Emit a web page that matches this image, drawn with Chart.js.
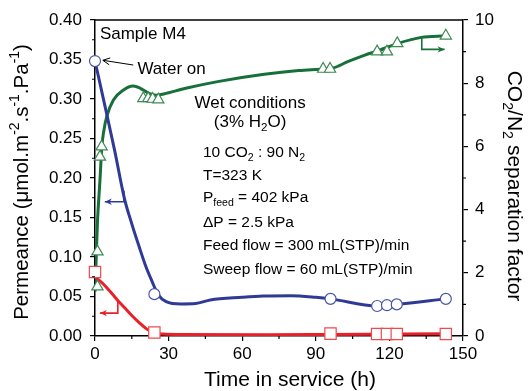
<!DOCTYPE html>
<html><head><meta charset="utf-8">
<script src="https://cdn.jsdelivr.net/npm/chart.js@4"></script>
<style>html,body{margin:0;padding:0;background:#fff}canvas{display:block}</style>
</head><body>
<canvas id="c" width="529" height="391"></canvas>
<script>
const FONT = "'Liberation Sans', Arial, Helvetica, sans-serif";

// ---- measured points (markers) ----
const markerHours = [0, 24.2, 96, 115, 119, 123, 143];
const permeanceCO2 = [0.348, 0.053, 0.047, 0.038, 0.039, 0.040, 0.047];
const permeanceN2 = [0.081, 0.0045, 0.003, 0.0025, 0.0025, 0.0025, 0.0025];
const sepHours = [1, 1, 2, 2.7, 19.7, 21.7, 23.5, 25.8, 93, 95.8, 115, 119, 123.2, 143];
const sepFactor = [1.56, 2.67, 5.67, 5.99, 7.52, 7.52, 7.50, 7.48, 8.45, 8.45, 9.0, 9.0, 9.26, 9.5];

// ---- trend curves ----
const co2CurveHours = [0, 4, 8, 12, 15, 18, 20.5, 23, 25.8, 29, 35, 41, 47, 60, 68.6, 80, 90, 96, 115, 119, 123, 143];
const co2CurveValues = [0.348, 0.292, 0.235, 0.174, 0.142, 0.113, 0.090, 0.071, 0.052, 0.0435, 0.0405, 0.041, 0.0456, 0.049, 0.0506, 0.051, 0.049, 0.047, 0.038, 0.039, 0.040, 0.047];
const n2CurveHours = [0, 3, 6, 9, 12, 15, 18, 21, 24, 28, 35, 70, 96, 143];
const n2CurveValues = [0.075, 0.067, 0.057, 0.046, 0.036, 0.026, 0.017, 0.009, 0.004, 0.0025, 0.002, 0.0015, 0.002, 0.003];
const sepCurveHours = [0, 0.5, 1, 2, 2.8, 3.5, 4.8, 7.5, 11.5, 15.5, 18.5, 22, 25, 28, 37, 50, 69, 83, 93, 97, 103, 110, 115.5, 123.5, 133, 143];
const sepCurveValues = [1.4, 2.5, 3.6, 4.9, 6.0, 6.45, 6.95, 7.47, 7.78, 7.91, 7.84, 7.68, 7.62, 7.66, 7.84, 8.05, 8.28, 8.40, 8.45, 8.48, 8.68, 8.89, 9.03, 9.26, 9.45, 9.5];

// ---- tick values ----
const xTickValues = [0, 30, 60, 90, 120, 150];
const xMinorValues = [15, 45, 75, 105, 135];
const yTickValues = [0, 0.05, 0.10, 0.15, 0.20, 0.25, 0.30, 0.35, 0.40];
const yMinorValues = [0.025, 0.075, 0.125, 0.175, 0.225, 0.275, 0.325, 0.375];
const y2TickValues = [0, 2, 4, 6, 8, 10];
const y2MinorValues = [1, 3, 5, 7, 9];

const BLUE = '#2f3a96', BLUE_M = '#4a55a8';
const RED = '#e8202a', RED_M = '#ee4a4e';
const GREEN = '#17703a', GREEN_M = '#3d8a55';

const pts = (xs, ys) => xs.map((x, i) => ({x, y: ys[i]}));

function richWidth(ctx, segs, size) {
  let w = 0;
  for (const s of segs) {
    const fs = s.sub || s.sup ? size * 0.68 : size;
    ctx.font = fs + 'px ' + FONT;
    w += ctx.measureText(s.t).width;
  }
  return w;
}
function drawRich(ctx, segs, x, y, size, align, rot, color) {
  ctx.save();
  ctx.translate(x, y);
  if (rot) ctx.rotate(rot);
  const w = richWidth(ctx, segs, size);
  let cx = align === 'center' ? -w / 2 : (align === 'right' ? -w : 0);
  ctx.fillStyle = color || '#000';
  ctx.textBaseline = 'middle';
  ctx.textAlign = 'left';
  for (const s of segs) {
    const fs = s.sub || s.sup ? size * 0.68 : size;
    ctx.font = fs + 'px ' + FONT;
    let dy = 0;
    if (s.sub) dy = size * 0.33;
    if (s.sup) dy = -size * 0.35;
    ctx.fillText(s.t, cx, dy);
    cx += ctx.measureText(s.t).width;
  }
  ctx.restore();
}

const arrowDefs = [
  {axis: 'y', color: BLUE, lw: 1.6, head: 'fill', p: [[11.8, 0.184], [11.8, 0.170], [4.0, 0.170]]},
  {axis: 'y', color: RED, lw: 1.6, head: 'fill', p: [[9.3, 0.044], [9.3, 0.029], [2.0, 0.029]]},
  {axis: 'y2', color: GREEN, lw: 1.6, head: 'fill', p: [[133.2, 9.42], [133.2, 9.07], [142.5, 9.07]]},
  {axis: 'y', color: '#000', lw: 1, head: 'open', p: [[15.6, 0.343], [3.2, 0.349]]}
];

const textDefs = [
  {x: 2, y: 0.382, a: 'left', s: 17, segs: [{t: 'Sample M4'}]},
  {x: 17.3, y: 0.338, a: 'left', s: 17, segs: [{t: 'Water on'}]},
  {x: 63.2, y: 0.295, a: 'center', s: 17, segs: [{t: 'Wet conditions'}]},
  {x: 63.2, y: 0.271, a: 'center', s: 17, segs: [{t: '(3% H'}, {t: '2', sub: true}, {t: 'O)'}]},
  {x: 44, y: 0.2316, a: 'left', s: 15.5, segs: [{t: '10 CO'}, {t: '2', sub: true}, {t: ' : 90 N'}, {t: '2', sub: true}]},
  {x: 44, y: 0.2025, a: 'left', s: 15.5, segs: [{t: 'T=323 K'}]},
  {x: 44, y: 0.1747, a: 'left', s: 15.5, segs: [{t: 'P'}, {t: 'feed', sub: true}, {t: ' = 402 kPa'}]},
  {x: 44, y: 0.1430, a: 'left', s: 15.5, segs: [{t: '\u0394P = 2.5 kPa'}]},
  {x: 44, y: 0.1140, a: 'left', s: 15.5, segs: [{t: 'Feed flow = 300 mL(STP)/min'}]},
  {x: 44, y: 0.0835, a: 'left', s: 15.5, segs: [{t: 'Sweep flow = 60 mL(STP)/min'}]}
];

const decor = {
  id: 'decor',
  afterDraw(chart) {
    const ctx = chart.ctx, ca = chart.chartArea;
    const xs = chart.scales.x, ys = chart.scales.y, y2 = chart.scales.y2;
    ctx.save();
    ctx.strokeStyle = '#000'; ctx.lineWidth = 1.5;
    ctx.beginPath(); ctx.moveTo(ca.left, ca.top); ctx.lineTo(ca.right, ca.top); ctx.stroke();
    ctx.lineWidth = 1.2;
    ctx.beginPath();
    for (const v of xMinorValues) { const px = xs.getPixelForValue(v); ctx.moveTo(px, ca.bottom); ctx.lineTo(px, ca.bottom + 3); }
    for (const v of yMinorValues) { const py = ys.getPixelForValue(v); ctx.moveTo(ca.left, py); ctx.lineTo(ca.left - 3, py); }
    for (const v of y2MinorValues) { const py = y2.getPixelForValue(v); ctx.moveTo(ca.right, py); ctx.lineTo(ca.right + 3, py); }
    ctx.stroke();
    for (const a of arrowDefs) {
      const sc = chart.scales[a.axis];
      const P = a.p.map(q => [xs.getPixelForValue(q[0]), sc.getPixelForValue(q[1])]);
      ctx.strokeStyle = a.color; ctx.fillStyle = a.color; ctx.lineWidth = a.lw;
      ctx.beginPath(); ctx.moveTo(P[0][0], P[0][1]);
      for (let i = 1; i < P.length; i++) ctx.lineTo(P[i][0], P[i][1]);
      ctx.stroke();
      const e = P[P.length - 1], b = P[P.length - 2];
      const ang = Math.atan2(e[1] - b[1], e[0] - b[0]);
      const L = 7, W = a.head === 'fill' ? 3.2 : 3.5;
      const hx = e[0] - L * Math.cos(ang), hy = e[1] - L * Math.sin(ang);
      const nx = -Math.sin(ang) * W, ny = Math.cos(ang) * W;
      ctx.beginPath();
      if (a.head === 'fill') {
        ctx.moveTo(e[0], e[1]); ctx.lineTo(hx + nx, hy + ny); ctx.lineTo(hx + (e[0]-hx)*0.3, hy + (e[1]-hy)*0.3); ctx.lineTo(hx - nx, hy - ny); ctx.closePath(); ctx.fill();
      } else {
        ctx.moveTo(hx + nx, hy + ny); ctx.lineTo(e[0], e[1]); ctx.lineTo(hx - nx, hy - ny); ctx.stroke();
      }
    }
    for (const t of textDefs) {
      drawRich(ctx, t.segs, xs.getPixelForValue(t.x), ys.getPixelForValue(t.y), t.s, t.a, 0);
    }
    drawRich(ctx, [{t: 'Permeance (\u03bcmol.m'}, {t: '-2', sup: true}, {t: '.s'}, {t: '-1', sup: true}, {t: '.Pa'}, {t: '-1', sup: true}, {t: ')'}],
      22, 182, 20.5, 'center', -Math.PI / 2);
    drawRich(ctx, [{t: 'CO'}, {t: '2', sub: true}, {t: '/N'}, {t: '2', sub: true}, {t: ' separation factor'}],
      514, 186, 21, 'center', Math.PI / 2);
    drawRich(ctx, [{t: 'Time in service (h)'}], 290, 380, 21, 'center', 0);
    ctx.restore();
  }
};

const tickFont = {family: FONT, size: 17};
const axisGrid = {drawOnChartArea: false, drawTicks: true, tickLength: 5, color: '#000', lineWidth: 1.2};
const axisBorder = {display: true, color: '#000', width: 1.5};

new Chart(document.getElementById('c'), {
  type: 'scatter',
  data: {
    datasets: [
      {label: 'CO2 permeance', data: pts(markerHours, permeanceCO2), yAxisID: 'y', showLine: false,
        pointStyle: 'circle', pointRadius: 5.5, borderColor: BLUE_M, backgroundColor: '#fff', pointBorderWidth: 1.2, clip: false},
      {label: 'N2 permeance', data: pts(markerHours, permeanceN2), yAxisID: 'y', showLine: false,
        pointStyle: 'rect', pointRadius: 8, borderColor: RED_M, backgroundColor: '#fff', pointBorderWidth: 1.2, clip: false},
      {label: 'Separation factor', data: pts(sepHours, sepFactor), yAxisID: 'y2', showLine: false,
        pointStyle: 'triangle', pointRadius: 6.5, borderColor: GREEN_M, backgroundColor: '#fff', pointBorderWidth: 1.2, clip: false},
      {label: 'CO2 trend', data: pts(co2CurveHours, co2CurveValues), yAxisID: 'y', showLine: true, pointRadius: 0,
        borderColor: BLUE, borderWidth: 3, cubicInterpolationMode: 'monotone', fill: false},
      {label: 'N2 trend', data: pts(n2CurveHours, n2CurveValues), yAxisID: 'y', showLine: true, pointRadius: 0,
        borderColor: RED, borderWidth: 3, cubicInterpolationMode: 'monotone', fill: false},
      {label: 'Separation trend', data: pts(sepCurveHours, sepCurveValues), yAxisID: 'y2', showLine: true, pointRadius: 0,
        borderColor: GREEN, borderWidth: 3, cubicInterpolationMode: 'monotone', fill: false}
    ]
  },
  options: {
    responsive: false, animation: false, devicePixelRatio: 1,
    layout: {padding: {top: 20, left: 0, right: 0, bottom: 0}},
    plugins: {legend: {display: false}, tooltip: {enabled: false}},
    scales: {
      x: {type: 'linear', min: 0, max: 150, position: 'bottom',
        afterBuildTicks: s => { s.ticks = xTickValues.map(v => ({value: v})); },
        afterFit: s => { s.height = 55; },
        grid: axisGrid, border: axisBorder,
        ticks: {font: tickFont, color: '#000', padding: 3, maxRotation: 0, callback: v => String(v)}},
      y: {type: 'linear', min: 0, max: 0.4, position: 'left',
        afterBuildTicks: s => { s.ticks = yTickValues.map(v => ({value: v})); },
        afterFit: s => { s.width = 95; },
        grid: axisGrid, border: axisBorder,
        ticks: {font: tickFont, color: '#000', padding: 8, callback: v => Number(v).toFixed(2)}},
      y2: {type: 'linear', min: 0, max: 10, position: 'right',
        afterBuildTicks: s => { s.ticks = y2TickValues.map(v => ({value: v})); },
        afterFit: s => { s.width = 66; },
        grid: axisGrid, border: axisBorder,
        ticks: {font: tickFont, color: '#000', padding: 7, callback: v => String(v)}}
    }
  },
  plugins: [decor]
});
</script>
</body></html>
